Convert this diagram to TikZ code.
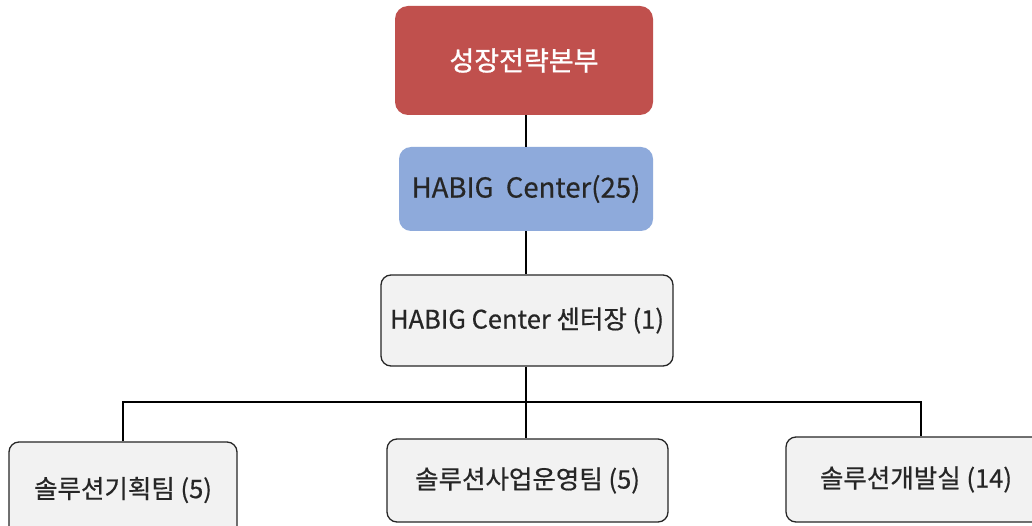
\documentclass[tikz,border=0pt]{standalone}
\usepackage{fontspec}
\setmainfont{Noto Sans CJK KR}
\definecolor{topred}{HTML}{C0504D}
\definecolor{midblue}{HTML}{8EAADB}
\definecolor{boxgray}{HTML}{F2F2F2}
\begin{document}
\begin{tikzpicture}[x=1pt,y=-1pt,
  box/.style={rectangle,rounded corners=10pt,draw=black!85,line width=1.3pt,fill=boxgray,
    font=\fontsize{25.5}{28}\selectfont\addfontfeature{FakeBold=0.6},text=black!85,inner sep=0pt},
  conn/.style={draw=black,line width=1.4pt}]
\useasboundingbox (0,0) rectangle (1032,526);
\clip (0,0) rectangle (1032,526);
\fill[white] (0,0) rectangle (1032,526);
\node[rectangle,rounded corners=13pt,fill=topred,minimum width=258pt,minimum height=109pt,
  text=white,font=\fontsize{27}{30}\selectfont\addfontfeature{FakeBold=1},inner sep=0pt] (hq) at (524,60.5) {성장전략본부};
\node[rectangle,rounded corners=12pt,fill=midblue,minimum width=254pt,minimum height=84pt,
  text=black!85,font=\fontsize{27.5}{30}\selectfont\addfontfeature{FakeBold=0.6},inner sep=0pt] (ctr) at (526,189) {HABIG\ \ Center(25)};
\node[box,minimum width=292pt,minimum height=91pt] (head) at (527,320.5) {HABIG Center 센터장 (1)};
\node[box,minimum width=228pt,minimum height=96pt] (t1) at (123,490) {솔루션기획팀 (5)};
\node[box,minimum width=281pt,minimum height=83pt] (t2) at (527.5,480.5) {솔루션사업운영팀 (5)};
\node[box,minimum width=260pt,minimum height=85pt] (t3) at (916,479.5) {솔루션개발실 (14)};
\coordinate (bar) at (526,402);
\draw[conn] (hq.south -| ctr) -- (ctr.north);
\draw[conn] (ctr.south) -- (ctr.south |- head.north);
\draw[conn] (bar |- head.south) -- (bar);
\draw[conn] (t1.north) |- (bar) -| ([xshift=5pt]t3.north);
\draw[conn] (bar) -- (bar |- t2.north);
\end{tikzpicture}
\end{document}
